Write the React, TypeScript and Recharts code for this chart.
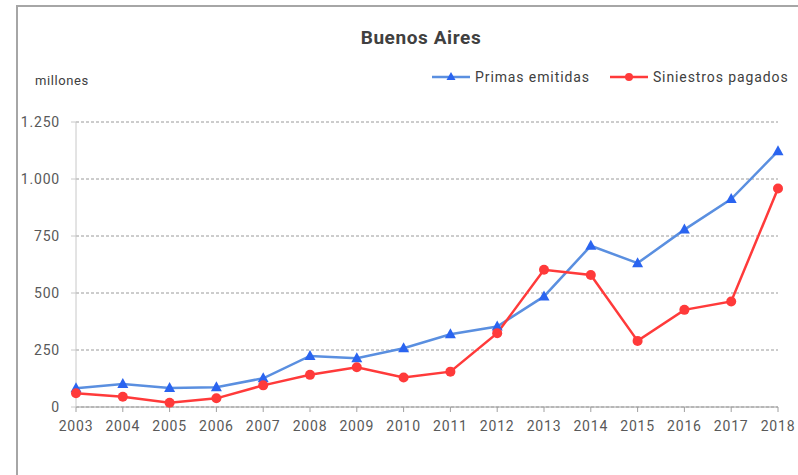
import React from 'react';
import { LineChart, Line, XAxis, YAxis, CartesianGrid } from 'recharts';

const years = ['2003', '2004', '2005', '2006', '2007', '2008', '2009', '2010', '2011', '2012', '2013', '2014', '2015', '2016', '2017', '2018'];
const primas = [82, 101, 83, 87, 126, 224, 214, 258, 319, 353, 485, 707, 631, 778, 912, 1122];
const siniestros = [60, 45, 19, 38, 95, 141, 174, 129, 155, 324, 602, 579, 290, 426, 463, 958];
const yTicks = [0, 250, 500, 750, 1000, 1250];

const BLUE = '#5a8fe0';
const BLUE_MARK = '#2a64f0';
const RED = '#ff3a3a';
const FONT = 'Roboto, "Liberation Sans", sans-serif';

const chartData = years.map((y, i) => ({ year: y, primas: primas[i], siniestros: siniestros[i] }));

const fmt = (v: number) => v.toLocaleString('de-DE');

const Triangle = (props: any) => {
  const { cx, cy, index } = props;
  if (cx == null || cy == null) return <g key={index} />;
  return <polygon key={index} points={`${cx},${cy - 6} ${cx - 5.5},${cy + 4} ${cx + 5.5},${cy + 4}`} fill={BLUE_MARK} />;
};

const Dot = (props: any) => {
  const { cx, cy, index } = props;
  if (cx == null || cy == null) return <g key={index} />;
  return <circle key={index} cx={cx} cy={cy} r={5} fill={RED} />;
};

const tickStyle = { fill: '#595959', fontSize: 14, fontFamily: FONT, letterSpacing: 0.8 };

export default function App() {
  return (
    <div style={{ position: 'absolute', left: 0, top: 0, width: 798, height: 475, background: '#fff', overflow: 'hidden' }}>
      <div style={{ position: 'absolute', left: 16, top: 5, right: 0, bottom: 0, borderLeft: '2px solid #a6a6a6', borderTop: '2px solid #a6a6a6' }} />
      <div style={{ position: 'absolute', left: 0, width: 842, top: 26, textAlign: 'center', fontFamily: FONT, fontWeight: 'bold', fontSize: 19, letterSpacing: 0.6, color: '#404040' }}>
        Buenos Aires
      </div>
      <div style={{ position: 'absolute', left: 35, top: 73, fontFamily: FONT, fontSize: 13, letterSpacing: 0.6, color: '#404040' }}>millones</div>
      <div style={{ position: 'absolute', left: 432, top: 69, display: 'flex', alignItems: 'center', fontFamily: FONT, fontSize: 14, letterSpacing: 0.9, color: '#404040' }}>
        <svg width={40} height={12} style={{ marginRight: 3 }}>
          <line x1={0} y1={6} x2={38} y2={6} stroke={BLUE} strokeWidth={2.5} />
          <polygon points="19,1 14.5,9 23.5,9" fill={BLUE_MARK} />
        </svg>
        <span style={{ marginRight: 20 }}>Primas emitidas</span>
        <svg width={40} height={12} style={{ marginRight: 3 }}>
          <line x1={0} y1={6} x2={38} y2={6} stroke={RED} strokeWidth={2.5} />
          <circle cx={19} cy={6} r={4} fill={RED} />
        </svg>
        <span>Siniestros pagados</span>
      </div>
      <LineChart width={798} height={475} data={chartData} margin={{ top: 122, right: 20, bottom: 38, left: 0 }} style={{ position: 'absolute', left: 0, top: 0 }}>
        <CartesianGrid vertical={false} stroke="#9a9a9a" strokeDasharray="3 2" />
        <XAxis
          dataKey="year"
          height={30}
          stroke="#a0a0a0"
          tickSize={5}
          tickMargin={9}
          tick={tickStyle}
          interval={0}
        />
        <YAxis
          width={76}
          domain={[0, 1250]}
          ticks={yTicks}
          tickFormatter={fmt}
          stroke="#c8c8c8"
          tickSize={5}
          tickMargin={11}
          tick={tickStyle}
        />
        <Line type="linear" dataKey="primas" name="Primas emitidas" stroke={BLUE} strokeWidth={2.5} dot={<Triangle />} isAnimationActive={false} />
        <Line type="linear" dataKey="siniestros" name="Siniestros pagados" stroke={RED} strokeWidth={2.5} dot={<Dot />} isAnimationActive={false} />
      </LineChart>
    </div>
  );
}
